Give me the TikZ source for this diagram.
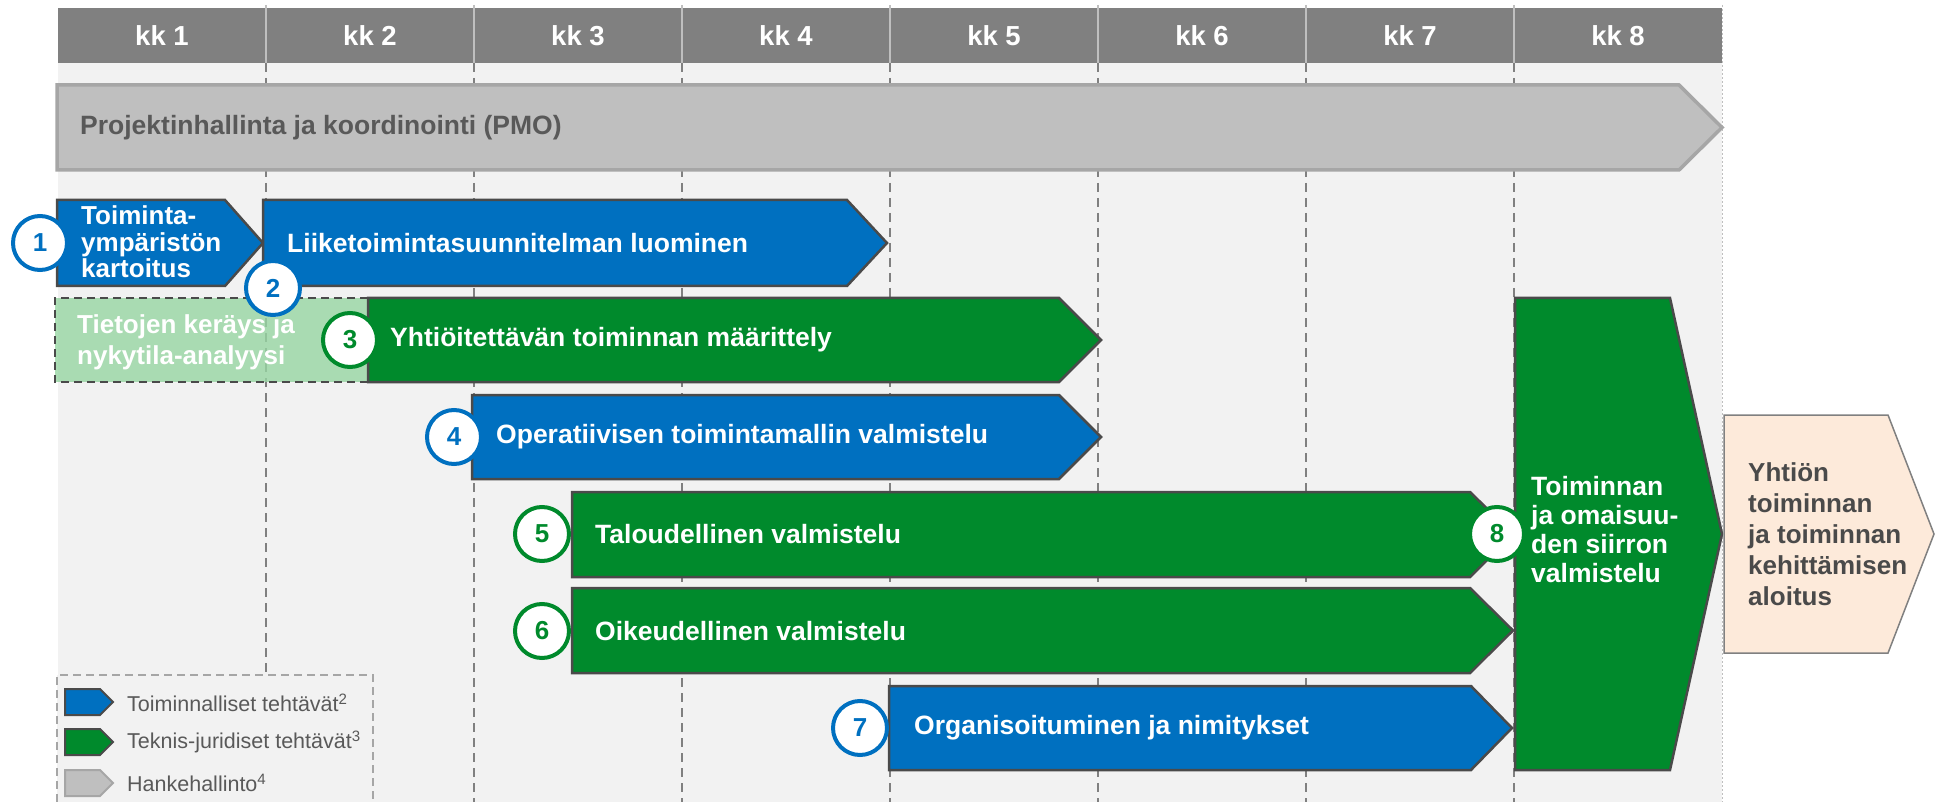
\documentclass[tikz,border=0pt]{standalone}
\usepackage{fontspec}
\setmainfont{Liberation Sans}

\definecolor{kkblue}{HTML}{0070C0}
\definecolor{kkgreen}{HTML}{008A2C}
\definecolor{kklight}{RGB}{151,214,162}
\definecolor{kkhead}{HTML}{808080}
\definecolor{kkbg}{HTML}{F2F2F2}
\definecolor{kkpmo}{HTML}{BFBFBF}
\definecolor{kkpmoline}{HTML}{A6A6A6}
\definecolor{kkdark}{HTML}{4A4A4A}
\definecolor{kktext}{HTML}{595959}
\definecolor{kkpeach}{HTML}{FDEADA}

\begin{document}
\begin{tikzpicture}[x=1pt,y=-1pt,
  hdr/.style={inner sep=0pt,text=white,font=\bfseries\fontsize{27.5}{29}\selectfont},
  lbl/.style={anchor=west,inner sep=0pt,align=left,text=white,font=\bfseries\fontsize{26.5}{29}\selectfont},
  numc/.style={circle,draw=#1,fill=white,line width=4pt,text=#1,minimum size=54pt,inner sep=0pt,font=\bfseries\fontsize{26}{28}\selectfont},
  bluebar/.style={fill=kkblue,draw=kkdark,line width=2.5pt},
  greenbar/.style={fill=kkgreen,draw=kkdark,line width=2.5pt},
  legtxt/.style={anchor=west,inner sep=0pt,text=kktext,font=\fontsize{21.5}{24}\selectfont}]
\useasboundingbox (0,0) rectangle (1935,802);

% background and month header
\fill[kkbg] (58,63) rectangle (1722,802);
\fill[kkhead] (58,8) rectangle (1722,63);
\foreach \i in {1,...,7} {
  \draw[kkpmo,line width=1.5pt] (58+208*\i,5) -- (58+208*\i,63);
  \draw[kkhead,line width=1.5pt,dash pattern=on 9pt off 6pt] (58+208*\i,63) -- (58+208*\i,802);
}
\draw[kkpmo,line width=1pt,dash pattern=on 2pt off 2pt] (1722,5) -- (1722,802);
\foreach \i in {1,...,8}
  \node[hdr] (kk\i) at (208*\i-46,35.5) {kk \i};

% PMO
\draw[fill=kkpmo,draw=kkpmoline,line width=3.5pt] (57,85) -- (1679,85) -- (1722,127.5) -- (1679,170) -- (57,170) -- cycle;
\node[lbl,text=kktext] (pmo) at (80,127.5) {Projektinhallinta ja koordinointi (PMO)};

% phases
\draw[bluebar] (57,200) -- (225,200) -- (263,243) -- (225,286) -- (57,286) -- cycle;
\node[lbl,font=\bfseries\fontsize{26}{26.5}\selectfont] (t1) at (81,242) {Toiminta-\\ympäristön\\kartoitus};
\draw[bluebar] (263,200) -- (847,200) -- (887,243) -- (847,286) -- (263,286) -- cycle;
\node[lbl] (t2) at (287,243) {Liiketoimintasuunnitelman luominen};

\fill[kklight,fill opacity=0.8] (55,298) rectangle (368,382);
\draw[kkdark,line width=2.5pt,dash pattern=on 8pt off 5pt] (368,298) -- (55,298) -- (55,382) -- (368,382);
\node[lbl,font=\bfseries\fontsize{26}{31}\selectfont] (tiedot) at (77,342) {Tietojen keräys ja\\nykytila-analyysi};

\draw[greenbar] (368,298) -- (1059,298) -- (1101,340) -- (1059,382) -- (368,382) -- cycle;
\node[lbl] (t3) at (390,340) {Yhtiöitettävän toiminnan määrittely};
\draw[bluebar] (472,395) -- (1059,395) -- (1101,437) -- (1059,479) -- (472,479) -- cycle;
\node[lbl] (t4) at (496,437) {Operatiivisen toimintamallin valmistelu};
\draw[greenbar] (572,492) -- (1470,492) -- (1513,534) -- (1470,577) -- (572,577) -- cycle;
\node[lbl] (t5) at (595,534) {Taloudellinen valmistelu};
\draw[greenbar] (572,588) -- (1470,588) -- (1513,630.5) -- (1470,673) -- (572,673) -- cycle;
\node[lbl] (t6) at (595,631) {Oikeudellinen valmistelu};
\draw[bluebar] (889,686) -- (1471,686) -- (1512,728) -- (1471,770) -- (889,770) -- cycle;
\node[lbl] (t7) at (914,728) {Organisoituminen ja nimitykset};

\draw[greenbar] (1515,298) -- (1670,298) -- (1722,534) -- (1670,770) -- (1515,770) -- cycle;
\node[lbl] (t8) at (1531,530) {Toiminnan\\ja omaisuu-\\den siirron\\valmistelu};

\draw[fill=kkpeach,draw=kkhead,line width=1.5pt] (1724,415) -- (1888,415) -- (1934,534) -- (1888,653) -- (1724,653) -- cycle;
\node[lbl,text=kkdark,font=\bfseries\fontsize{26}{31}\selectfont] (aloitus) at (1748,534) {Yhtiön\\toiminnan\\ja toiminnan\\kehittämisen\\aloitus};

% numbers
\node[numc=kkblue] (c1) at (40,243) {1};
\node[numc=kkblue] (c2) at (273,288) {2};
\node[numc=kkgreen] (c3) at (350,340) {3};
\node[numc=kkblue] (c4) at (454,437) {4};
\node[numc=kkgreen] (c5) at (542,534) {5};
\node[numc=kkgreen] (c6) at (542,631) {6};
\node[numc=kkblue] (c7) at (860,728) {7};
\node[numc=kkgreen] (c8) at (1497,534) {8};

% legend
\fill[kkbg] (57,675) rectangle (373,802);
\draw[kkpmoline,line width=1.5pt,dash pattern=on 8pt off 5pt] (57,802) -- (57,675) -- (373,675) -- (373,802);
\draw[bluebar,line width=2pt] (65,689) -- (100,689) -- (113,702) -- (100,715) -- (65,715) -- cycle;
\node[legtxt] (leg1) at (127,703) {Toiminnalliset tehtävät\textsuperscript{2}};
\draw[greenbar,line width=2pt] (65,729) -- (100,729) -- (113,742) -- (100,755) -- (65,755) -- cycle;
\node[legtxt] (leg2) at (127,742) {Teknis-juridiset tehtävät\textsuperscript{3}};
\draw[fill=kkpmo,draw=kkpmoline,line width=2pt] (65,770) -- (100,770) -- (113,783) -- (100,796) -- (65,796) -- cycle;
\node[legtxt] (leg3) at (127,783) {Hankehallinto\textsuperscript{4}};

\end{tikzpicture}
\end{document}
